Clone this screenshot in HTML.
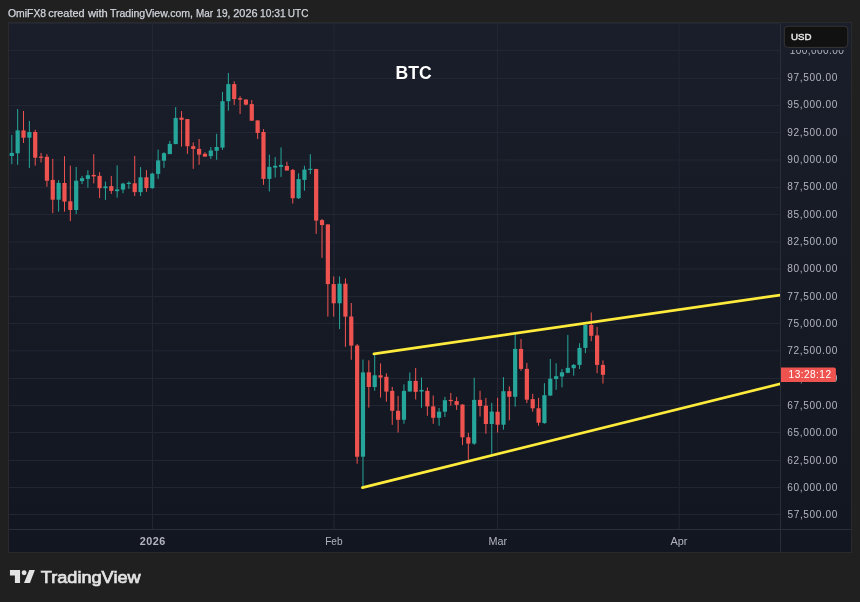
<!DOCTYPE html><html><head><meta charset="utf-8"><style>
html,body{margin:0;padding:0;background:#202020;width:860px;height:602px;overflow:hidden}
svg{display:block}
text{font-family:"Liberation Sans",Arial,sans-serif}
</style></head><body>
<svg width="860" height="602" viewBox="0 0 860 602">
<rect x="0" y="0" width="860" height="602" fill="#202020"/>
<text y="16.6" font-size="10.3" fill="#d1d4dc" stroke="#d1d4dc" stroke-width="0.25">
<tspan x="8.01" textLength="38.14" lengthAdjust="spacingAndGlyphs">OmiFX8</tspan>
<tspan x="48.24" textLength="36.36" lengthAdjust="spacingAndGlyphs">created</tspan>
<tspan x="87.92" textLength="19.79" lengthAdjust="spacingAndGlyphs">with</tspan>
<tspan x="109.97" textLength="82.97" lengthAdjust="spacingAndGlyphs">TradingView.com,</tspan>
<tspan x="196.09" textLength="16.97" lengthAdjust="spacingAndGlyphs">Mar</tspan>
<tspan x="216.33" textLength="14.08" lengthAdjust="spacingAndGlyphs">19,</tspan>
<tspan x="233.25" textLength="24.32" lengthAdjust="spacingAndGlyphs">2026</tspan>
<tspan x="260.02" textLength="25.57" lengthAdjust="spacingAndGlyphs">10:31</tspan>
<tspan x="287.83" textLength="20.65" lengthAdjust="spacingAndGlyphs">UTC</tspan>
</text>
<defs><linearGradient id="pg" gradientUnits="userSpaceOnUse" x1="0" y1="22" x2="0" y2="553"><stop offset="0" stop-color="#1a1e2a"/><stop offset="1" stop-color="#121620"/></linearGradient></defs>
<rect x="8" y="22" width="844" height="531" fill="url(#pg)"/>
<g shape-rendering="crispEdges" fill="#222633">
<rect x="9" y="50" width="771" height="1" shape-rendering="geometricPrecision"/>
<rect x="9" y="78" width="771" height="1" shape-rendering="geometricPrecision"/>
<rect x="9" y="105" width="771" height="1" shape-rendering="geometricPrecision"/>
<rect x="9" y="132" width="771" height="1" shape-rendering="geometricPrecision"/>
<rect x="9" y="159.5" width="771" height="1" shape-rendering="geometricPrecision"/>
<rect x="9" y="187" width="771" height="1" shape-rendering="geometricPrecision"/>
<rect x="9" y="214" width="771" height="1" shape-rendering="geometricPrecision"/>
<rect x="9" y="241.5" width="771" height="1" shape-rendering="geometricPrecision"/>
<rect x="9" y="268.5" width="771" height="1" shape-rendering="geometricPrecision"/>
<rect x="9" y="296" width="771" height="1" shape-rendering="geometricPrecision"/>
<rect x="9" y="323" width="771" height="1" shape-rendering="geometricPrecision"/>
<rect x="9" y="350.3" width="771" height="1" shape-rendering="geometricPrecision"/>
<rect x="9" y="378" width="771" height="1" shape-rendering="geometricPrecision"/>
<rect x="9" y="405" width="771" height="1" shape-rendering="geometricPrecision"/>
<rect x="9" y="432" width="771" height="1" shape-rendering="geometricPrecision"/>
<rect x="9" y="460" width="771" height="1" shape-rendering="geometricPrecision"/>
<rect x="9" y="487" width="771" height="1" shape-rendering="geometricPrecision"/>
<rect x="9" y="514" width="771" height="1" shape-rendering="geometricPrecision"/>
<rect x="152" y="23" width="1" height="506" shape-rendering="geometricPrecision"/>
<rect x="333.5" y="23" width="1" height="506" shape-rendering="geometricPrecision"/>
<rect x="497" y="23" width="1" height="506" shape-rendering="geometricPrecision"/>
<rect x="678.7" y="23" width="1" height="506" shape-rendering="geometricPrecision"/>
</g>
<g shape-rendering="crispEdges" fill="#2a2a2d">
<rect x="8" y="22" width="844" height="1"/>
<rect x="8" y="552" width="844" height="1"/>
<rect x="8" y="22" width="1" height="531"/>
<rect x="851" y="22" width="1" height="531"/>
<rect x="780" y="23" width="1" height="529" fill="#2a2e39"/>
<rect x="9" y="529" width="842" height="1" fill="#2a2e39"/>
</g>
<rect x="9" y="23" width="842" height="1" fill="#222533" shape-rendering="crispEdges"/>
<g fill="#26a69a"><rect x="11.3" y="134.9" width="1" height="29.3"/><rect x="17.15" y="109" width="1" height="55.8"/><rect x="28.86" y="120.9" width="1" height="47"/><rect x="58.12" y="180.1" width="1" height="31.5"/><rect x="75.68" y="166.9" width="1" height="47.2"/><rect x="81.54" y="175.9" width="1" height="8.2"/><rect x="87.39" y="170.2" width="1" height="17.4"/><rect x="104.95" y="181.6" width="1" height="18.3"/><rect x="116.65" y="165.4" width="1" height="32.2"/><rect x="122.51" y="182.8" width="1" height="10.5"/><rect x="128.36" y="181.3" width="1" height="7.5"/><rect x="140.07" y="167.1" width="1" height="28.9"/><rect x="151.77" y="172.7" width="1" height="16.1"/><rect x="157.62" y="149.6" width="1" height="29.2"/><rect x="163.48" y="152.2" width="1" height="15.7"/><rect x="169.33" y="140.9" width="1" height="13.2"/><rect x="175.18" y="107.1" width="1" height="37"/><rect x="210.3" y="147" width="1" height="11.9"/><rect x="216.16" y="133.8" width="1" height="26"/><rect x="222.01" y="91.9" width="1" height="57.9"/><rect x="227.86" y="73" width="1" height="37.7"/><rect x="268.83" y="154.6" width="1" height="36.8"/><rect x="274.69" y="157.1" width="1" height="20.4"/><rect x="280.54" y="147.4" width="1" height="29.5"/><rect x="298.1" y="173.3" width="1" height="25.7"/><rect x="303.95" y="165.8" width="1" height="24.9"/><rect x="309.8" y="154.2" width="1" height="19.9"/><rect x="339.07" y="276.4" width="1" height="52.7"/><rect x="362.48" y="359.6" width="1" height="128"/><rect x="374.19" y="354.4" width="1" height="36.4"/><rect x="403.45" y="384.3" width="1" height="39.5"/><rect x="409.3" y="372.4" width="1" height="19.1"/><rect x="421.01" y="377.5" width="1" height="30.3"/><rect x="438.57" y="408" width="1" height="17.8"/><rect x="444.42" y="396.9" width="1" height="20.1"/><rect x="473.69" y="377.8" width="1" height="67"/><rect x="491.25" y="402.9" width="1" height="51"/><rect x="502.95" y="377.2" width="1" height="52.4"/><rect x="514.66" y="333.4" width="1" height="73.3"/><rect x="543.92" y="383.2" width="1" height="40.5"/><rect x="549.78" y="359" width="1" height="36.6"/><rect x="555.63" y="363.2" width="1" height="26.6"/><rect x="561.48" y="369" width="1" height="18.3"/><rect x="567.33" y="334.9" width="1" height="38.3"/><rect x="573.19" y="364" width="1" height="11.7"/><rect x="579.04" y="343.2" width="1" height="25.8"/><rect x="584.89" y="324.6" width="1" height="28.6"/></g>
<g fill="#ef5350"><rect x="23.01" y="111" width="1" height="32"/><rect x="34.71" y="129.8" width="1" height="35.8"/><rect x="40.56" y="152.9" width="1" height="9.6"/><rect x="46.42" y="154.2" width="1" height="32.5"/><rect x="52.27" y="158.8" width="1" height="54.4"/><rect x="63.98" y="156.2" width="1" height="55.4"/><rect x="69.83" y="165.7" width="1" height="55.4"/><rect x="93.24" y="154.2" width="1" height="29.2"/><rect x="99.09" y="172.2" width="1" height="25.9"/><rect x="110.8" y="175.9" width="1" height="18"/><rect x="134.21" y="155.9" width="1" height="40.1"/><rect x="145.92" y="170.1" width="1" height="21.7"/><rect x="181.04" y="111.1" width="1" height="35.5"/><rect x="186.89" y="119.1" width="1" height="34.8"/><rect x="192.74" y="142.4" width="1" height="26.4"/><rect x="198.6" y="139" width="1" height="25.7"/><rect x="204.45" y="152.2" width="1" height="4.5"/><rect x="233.71" y="81.3" width="1" height="23.6"/><rect x="239.57" y="96.2" width="1" height="17.8"/><rect x="245.42" y="99.1" width="1" height="6.2"/><rect x="251.27" y="100" width="1" height="20.7"/><rect x="257.13" y="120.4" width="1" height="18.6"/><rect x="262.98" y="129.1" width="1" height="55.7"/><rect x="286.39" y="161.7" width="1" height="8.8"/><rect x="292.24" y="168.9" width="1" height="34.6"/><rect x="315.66" y="168.8" width="1" height="65.1"/><rect x="321.51" y="219" width="1" height="38.8"/><rect x="327.36" y="224.4" width="1" height="92.2"/><rect x="333.21" y="276.4" width="1" height="40.2"/><rect x="344.92" y="278.4" width="1" height="68.4"/><rect x="350.77" y="303" width="1" height="56.8"/><rect x="356.63" y="344" width="1" height="119.7"/><rect x="368.33" y="360.3" width="1" height="47.3"/><rect x="380.04" y="363.4" width="1" height="34.2"/><rect x="385.89" y="373.3" width="1" height="28.4"/><rect x="391.75" y="386.9" width="1" height="37.9"/><rect x="397.6" y="395.9" width="1" height="36.6"/><rect x="415.16" y="368" width="1" height="31.5"/><rect x="426.86" y="387.5" width="1" height="28.3"/><rect x="432.72" y="395.5" width="1" height="28.3"/><rect x="450.27" y="392.9" width="1" height="12.8"/><rect x="456.13" y="396.9" width="1" height="13"/><rect x="461.98" y="404.1" width="1" height="41"/><rect x="467.83" y="432.8" width="1" height="26.9"/><rect x="479.54" y="390.8" width="1" height="25.7"/><rect x="485.39" y="397.9" width="1" height="35.8"/><rect x="497.1" y="397.8" width="1" height="34.8"/><rect x="508.81" y="386.4" width="1" height="33.9"/><rect x="520.51" y="339" width="1" height="31.8"/><rect x="526.36" y="362.9" width="1" height="40.2"/><rect x="532.22" y="393.8" width="1" height="17.9"/><rect x="538.07" y="397.8" width="1" height="27.9"/><rect x="590.75" y="312.5" width="1" height="28.7"/><rect x="596.6" y="326.9" width="1" height="46.3"/><rect x="602.45" y="360.4" width="1" height="23.1"/></g>
<g fill="#26a69a"><rect x="9.7" y="152.9" width="4.2" height="3.1"/><rect x="15.55" y="130.4" width="4.2" height="22.9"/><rect x="27.26" y="132" width="4.2" height="5.7"/><rect x="56.52" y="182.9" width="4.2" height="16.8"/><rect x="74.08" y="180.7" width="4.2" height="29.3"/><rect x="79.94" y="178.2" width="4.2" height="2.9"/><rect x="85.79" y="175.2" width="4.2" height="3.7"/><rect x="103.35" y="186.4" width="4.2" height="1.8"/><rect x="115.05" y="189.4" width="4.2" height="1.8"/><rect x="120.91" y="183.6" width="4.2" height="6"/><rect x="126.76" y="182.8" width="4.2" height="1.2"/><rect x="138.47" y="177.3" width="4.2" height="14.8"/><rect x="150.17" y="173.6" width="4.2" height="14.5"/><rect x="156.03" y="160.4" width="4.2" height="13.5"/><rect x="161.88" y="153.2" width="4.2" height="7.5"/><rect x="167.73" y="143.9" width="4.2" height="10.2"/><rect x="173.58" y="117.9" width="4.2" height="26.2"/><rect x="208.7" y="150.5" width="4.2" height="5.6"/><rect x="214.56" y="147" width="4.2" height="3.8"/><rect x="220.41" y="101.2" width="4.2" height="46.4"/><rect x="226.26" y="84.1" width="4.2" height="17.1"/><rect x="267.23" y="166.9" width="4.2" height="12"/><rect x="273.08" y="165.8" width="4.2" height="1.8"/><rect x="278.94" y="164.9" width="4.2" height="1.9"/><rect x="296.5" y="179.1" width="4.2" height="19.1"/><rect x="302.35" y="169.6" width="4.2" height="10.3"/><rect x="308.2" y="168.8" width="4.2" height="1.1"/><rect x="337.47" y="283.7" width="4.2" height="19.6"/><rect x="360.88" y="372.4" width="4.2" height="84.3"/><rect x="372.59" y="375.3" width="4.2" height="11.7"/><rect x="401.85" y="390.9" width="4.2" height="28.9"/><rect x="407.7" y="380.9" width="4.2" height="10.6"/><rect x="419.41" y="389.9" width="4.2" height="1.6"/><rect x="436.97" y="411.7" width="4.2" height="6.1"/><rect x="442.82" y="400.2" width="4.2" height="11.5"/><rect x="472.09" y="399.9" width="4.2" height="43.7"/><rect x="489.65" y="411.6" width="4.2" height="12.4"/><rect x="501.35" y="391.2" width="4.2" height="33.5"/><rect x="513.06" y="348.9" width="4.2" height="47.9"/><rect x="542.32" y="395.2" width="4.2" height="27.9"/><rect x="548.18" y="378.7" width="4.2" height="16.9"/><rect x="554.03" y="376.2" width="4.2" height="2.8"/><rect x="559.88" y="372.3" width="4.2" height="4.2"/><rect x="565.73" y="367.9" width="4.2" height="4.9"/><rect x="571.59" y="364.9" width="4.2" height="3.3"/><rect x="577.44" y="347.9" width="4.2" height="17"/><rect x="583.29" y="325" width="4.2" height="22.9"/></g>
<g fill="#ef5350"><rect x="21.41" y="130.4" width="4.2" height="7.3"/><rect x="33.11" y="132" width="4.2" height="25.7"/><rect x="38.96" y="156.6" width="4.2" height="1.2"/><rect x="44.82" y="156.8" width="4.2" height="23.9"/><rect x="50.67" y="179.9" width="4.2" height="19.8"/><rect x="62.38" y="183" width="4.2" height="18.6"/><rect x="68.23" y="201.3" width="4.2" height="8.7"/><rect x="91.64" y="174.9" width="4.2" height="1.5"/><rect x="97.5" y="175.9" width="4.2" height="12.3"/><rect x="109.2" y="186.1" width="4.2" height="4.8"/><rect x="132.61" y="183.3" width="4.2" height="8.8"/><rect x="144.32" y="177.3" width="4.2" height="10.8"/><rect x="179.44" y="117.6" width="4.2" height="2.2"/><rect x="185.29" y="119.1" width="4.2" height="27.1"/><rect x="191.14" y="146.2" width="4.2" height="2.7"/><rect x="197" y="148.9" width="4.2" height="5.7"/><rect x="202.85" y="153.8" width="4.2" height="2.8"/><rect x="232.11" y="84.1" width="4.2" height="15"/><rect x="237.97" y="98.2" width="4.2" height="1.4"/><rect x="243.82" y="99.6" width="4.2" height="5"/><rect x="249.67" y="104.1" width="4.2" height="16.6"/><rect x="255.53" y="120.4" width="4.2" height="12.5"/><rect x="261.38" y="132" width="4.2" height="46.9"/><rect x="284.79" y="166" width="4.2" height="4.5"/><rect x="290.64" y="169.9" width="4.2" height="28.3"/><rect x="314.06" y="169.1" width="4.2" height="51.5"/><rect x="319.91" y="220.1" width="4.2" height="4.9"/><rect x="325.76" y="224.4" width="4.2" height="59.7"/><rect x="331.61" y="284.1" width="4.2" height="19.2"/><rect x="343.32" y="283.7" width="4.2" height="32.9"/><rect x="349.17" y="316.5" width="4.2" height="29.1"/><rect x="355.03" y="345.5" width="4.2" height="111.2"/><rect x="366.73" y="372.3" width="4.2" height="14.7"/><rect x="378.44" y="375.3" width="4.2" height="2.2"/><rect x="384.29" y="376.8" width="4.2" height="14.8"/><rect x="390.14" y="390.9" width="4.2" height="19.9"/><rect x="396" y="410.8" width="4.2" height="9"/><rect x="413.56" y="380.9" width="4.2" height="11"/><rect x="425.26" y="390.9" width="4.2" height="15.5"/><rect x="431.12" y="406.4" width="4.2" height="11.4"/><rect x="448.67" y="399.9" width="4.2" height="1.2"/><rect x="454.53" y="401.1" width="4.2" height="3.8"/><rect x="460.38" y="404.6" width="4.2" height="32.7"/><rect x="466.23" y="437.3" width="4.2" height="6.3"/><rect x="477.94" y="399.9" width="4.2" height="6.1"/><rect x="483.79" y="405.7" width="4.2" height="18.3"/><rect x="495.5" y="411.7" width="4.2" height="13"/><rect x="507.2" y="391.2" width="4.2" height="5.6"/><rect x="518.91" y="348.9" width="4.2" height="20"/><rect x="524.76" y="368.9" width="4.2" height="30.8"/><rect x="530.62" y="399.1" width="4.2" height="9.2"/><rect x="536.47" y="408.3" width="4.2" height="14.4"/><rect x="589.15" y="325" width="4.2" height="10.8"/><rect x="595" y="335.4" width="4.2" height="29.5"/><rect x="600.85" y="364.9" width="4.2" height="9.9"/></g>
<clipPath id="cp"><rect x="9" y="23" width="771" height="506"/></clipPath>
<g clip-path="url(#cp)">
<line x1="373.9" y1="353.8" x2="781" y2="294.9" stroke="#ffeb3b" stroke-width="2.7" stroke-linecap="round"/>
<line x1="362.4" y1="487.6" x2="781" y2="383.7" stroke="#ffeb3b" stroke-width="2.7" stroke-linecap="round"/>
</g>
<text x="395.6" y="79" font-size="17.6" font-weight="bold" fill="#ffffff">BTC</text>
<text x="789.83" y="53.56" font-size="10.1" letter-spacing="0.378" fill="#b2b5be">100,000.00</text>
<text x="787.34" y="80.9" font-size="10.1" letter-spacing="0.639" fill="#b2b5be">97,500.00</text>
<text x="787.34" y="108.24" font-size="10.1" letter-spacing="0.639" fill="#b2b5be">95,000.00</text>
<text x="787.34" y="135.58" font-size="10.1" letter-spacing="0.639" fill="#b2b5be">92,500.00</text>
<text x="787.34" y="162.92" font-size="10.1" letter-spacing="0.639" fill="#b2b5be">90,000.00</text>
<text x="787.37" y="190.26" font-size="10.1" letter-spacing="0.635" fill="#b2b5be">87,500.00</text>
<text x="787.37" y="217.6" font-size="10.1" letter-spacing="0.635" fill="#b2b5be">85,000.00</text>
<text x="787.37" y="244.94" font-size="10.1" letter-spacing="0.635" fill="#b2b5be">82,500.00</text>
<text x="787.37" y="272.28" font-size="10.1" letter-spacing="0.635" fill="#b2b5be">80,000.00</text>
<text x="787.28" y="299.62" font-size="10.1" letter-spacing="0.646" fill="#b2b5be">77,500.00</text>
<text x="787.28" y="326.96" font-size="10.1" letter-spacing="0.646" fill="#b2b5be">75,000.00</text>
<text x="787.28" y="354.3" font-size="10.1" letter-spacing="0.646" fill="#b2b5be">72,500.00</text>
<text x="787.28" y="381.64" font-size="10.1" letter-spacing="0.646" fill="#b2b5be">70,000.00</text>
<text x="787.29" y="408.98" font-size="10.1" letter-spacing="0.644" fill="#b2b5be">67,500.00</text>
<text x="787.29" y="436.32" font-size="10.1" letter-spacing="0.644" fill="#b2b5be">65,000.00</text>
<text x="787.29" y="463.66" font-size="10.1" letter-spacing="0.644" fill="#b2b5be">62,500.00</text>
<text x="787.29" y="491" font-size="10.1" letter-spacing="0.644" fill="#b2b5be">60,000.00</text>
<text x="787.4" y="518.34" font-size="10.1" letter-spacing="0.632" fill="#b2b5be">57,500.00</text>
<rect x="781" y="23" width="70" height="27" fill="url(#pg)"/>
<rect x="784.3" y="26.2" width="63.5" height="21.2" rx="3.5" fill="#111111" stroke="#363636" stroke-width="1"/>
<text x="791.06" y="39.8" font-size="9.9" fill="#e6e6e6" stroke="#e6e6e6" stroke-width="0.45" textLength="20.48" lengthAdjust="spacingAndGlyphs">USD</text>
<path d="M781 367.6 H833.9 a2 2 0 0 1 2 2 V380 a2 2 0 0 1 -2 2 H781 Z" fill="#ef5350"/>
<text x="788.6" y="378.4" font-size="10.1" letter-spacing="0.45" fill="#ffffff">13:28:12</text>
<text x="152.8" y="545.1" font-size="10.8" letter-spacing="0.55" font-weight="bold" fill="#b2b5be" text-anchor="middle">2026</text>
<text x="333.9" y="545.1" font-size="10.6" fill="#b2b5be" text-anchor="middle" textLength="17.4" lengthAdjust="spacingAndGlyphs">Feb</text>
<text x="497.7" y="545.1" font-size="10.6" fill="#b2b5be" text-anchor="middle" textLength="18.6" lengthAdjust="spacingAndGlyphs">Mar</text>
<text x="679" y="545.1" font-size="10.6" fill="#b2b5be" text-anchor="middle" textLength="17" lengthAdjust="spacingAndGlyphs">Apr</text>
<g fill="#e3e3e3">
<path d="M9.95 570.05 H20.05 V583 H14.9 V575.5 H9.95 Z"/>
<circle cx="24.1" cy="572.8" r="2.45"/>
<path d="M29.3 570.05 H34.9 L29.9 583 H24 Z"/>
</g>
<text x="40.85" y="583" font-size="17.2" fill="#e3e3e3" stroke="#e3e3e3" stroke-width="0.7" textLength="99.75" lengthAdjust="spacingAndGlyphs">TradingView</text>
</svg></body></html>
